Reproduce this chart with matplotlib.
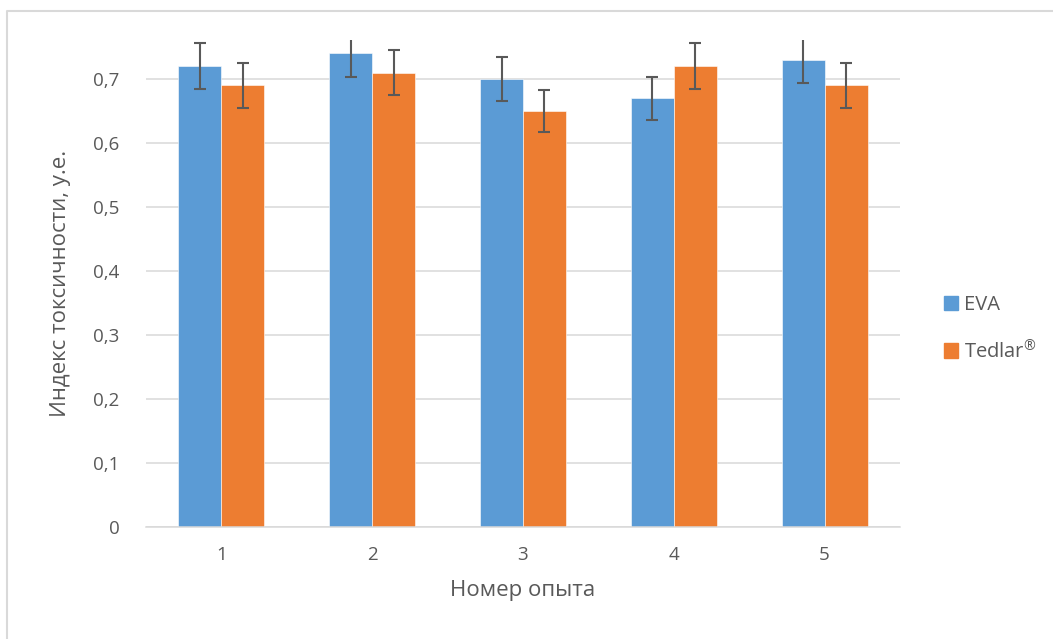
from matplotlib import pyplot as plt
from matplotlib.lines import Line2D
from matplotlib.patches import Patch
import numpy as np

plt.rcParams['font.family'] = ['Open Sans', 'DejaVu Sans']
plt.rcParams['mathtext.fontset'] = 'custom'
plt.rcParams['mathtext.rm'] = 'Open Sans'

# data
categories = ['1', '2', '3', '4', '5']
eva = [0.72, 0.74, 0.70, 0.67, 0.73]
tedlar = [0.69, 0.71, 0.65, 0.72, 0.69]
eva_err = [0.036, 0.037, 0.035, 0.0335, 0.0365]
tedlar_err = [0.0345, 0.0355, 0.0325, 0.036, 0.0345]
series_names = ['EVA', r'Tedlar$^{\mathrm{®}}$']

blue = '#5B9BD5'
orange = '#ED7D31'
grey_txt = '#595959'
grid = '#D9D9D9'

fig = plt.figure(figsize=(10.53, 6.39), dpi=100)
ax = fig.add_axes([146 / 1053, 1 - 527 / 639, 754 / 1053, 487 / 639])

x = np.arange(len(categories))
w = 0.285
ax.bar(x - w / 2, eva, w, color=blue, edgecolor='white', linewidth=0.4, zorder=2)
ax.bar(x + w / 2, tedlar, w, color=orange, edgecolor='white', linewidth=0.4, zorder=2)

ekw = dict(fmt='none', ecolor=grey_txt, elinewidth=1.5, capsize=4.5, capthick=1.5, zorder=3)
ax.errorbar(x - w / 2, eva, yerr=eva_err, **ekw)
ax.errorbar(x + w / 2, tedlar, yerr=tedlar_err, **ekw)

ax.set_xlim(-0.5, len(categories) - 0.5)
ax.set_ylim(0, 0.761)
ax.set_yticks(np.arange(0, 0.71, 0.1))
ax.set_yticklabels(['0'] + [f'{v:.1f}'.replace('.', ',') for v in np.arange(0.1, 0.71, 0.1)])
ax.set_xticks(x)
ax.set_xticklabels(categories)
ax.yaxis.grid(True, color=grid, linewidth=1.1, zorder=0)
ax.set_axisbelow(True)
for s in ['top', 'right', 'left']:
    ax.spines[s].set_visible(False)
ax.spines['bottom'].set_color(grid)
ax.spines['bottom'].set_linewidth(1.1)
ax.tick_params(axis='both', length=0, colors=grey_txt, labelsize=13.5)
ax.tick_params(axis='y', pad=19)
ax.tick_params(axis='x', pad=14)

ax.set_xlabel('Номер опыта', fontsize=16, color=grey_txt, labelpad=11)
ax.set_ylabel('Индекс токсичности, у.е.', fontsize=16, color=grey_txt, labelpad=16)

handles = [Patch(color=blue), Patch(color=orange)]
fig.legend(handles, series_names, loc='center left', bbox_to_anchor=(926 / 1053, 1 - 329 / 639),
           frameon=False, fontsize=14.5, labelcolor=grey_txt, handlelength=0.7, handleheight=0.7,
           handletextpad=0.3, labelspacing=1.2)

# chart border (only top and left visible in the crop)
fig.add_artist(Line2D([7 / 1053, 7 / 1053, 1], [0, 1 - 11 / 639, 1 - 11 / 639],
                      transform=fig.transFigure, color=grid, linewidth=1.5))

fig.savefig('out.png', dpi=100)
